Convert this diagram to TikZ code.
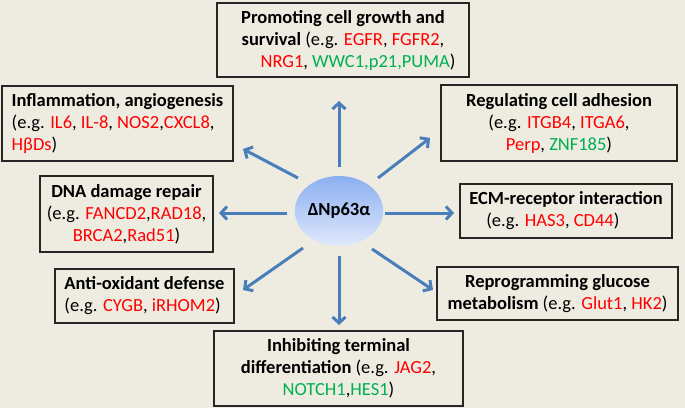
\documentclass[tikz,border=0pt]{standalone}
\usepackage{fontspec}
\setmainfont{Carlito}
\usetikzlibrary{shapes.geometric,arrows.meta}
\definecolor{bg}{RGB}{238,236,225}
\definecolor{rd}{RGB}{255,0,0}
\definecolor{gn}{RGB}{0,176,80}
\definecolor{ar}{RGB}{74,126,187}
\definecolor{etop}{RGB}{138,175,240}
\definecolor{ebot}{RGB}{224,233,252}
\newcommand{\redt}[1]{\textcolor{rd}{#1}}
\newcommand{\grnt}[1]{\textcolor{gn}{#1}}
\begin{document}
\begin{tikzpicture}[x=1pt,y=-1pt,
  box/.style={draw=black!85, line width=1.2pt, fill=bg, inner sep=0pt,
    font=\fontsize{18.5}{22}\selectfont},
  arr/.style={draw=ar, line width=3pt, -{Straight Barb[length=6pt,width=13pt]}}]
\fill[bg] (0,0) rectangle (685,408);
\useasboundingbox (0,0) rectangle (685,408);

\node[ellipse, minimum width=78pt, minimum height=70pt, inner sep=0pt,
  top color=etop, bottom color=ebot, font=\fontsize{18.5}{22}\selectfont\bfseries]
  (c) at (339,211) {ΔNp63α};

\node[box, minimum width=252pt, minimum height=74pt, align=center] (grow) at (343,40)
 {\textbf{Promoting cell growth and}\\
  \textbf{survival} (e.g. \redt{EGFR}, \redt{FGFR2},\\
  \hspace*{30pt}\redt{NRG1}, \grnt{WWC1,p21,PUMA})};

\node[box, minimum width=231pt, minimum height=75pt, align=left] (infl) at (117.5,123.5)
 {\textbf{Inflammation, angiogenesis}\\
  (e.g. \redt{IL6}, \redt{IL-8}, \redt{NOS2},\redt{CXCL8},\\
  \redt{HβDs})};

\node[box, minimum width=236pt, minimum height=76pt, align=center] (adh) at (559,123)
 {\textbf{Regulating cell adhesion}\\
  (e.g. \redt{ITGB4}, \redt{ITGA6},\\
  \redt{Perp}, \grnt{ZNF185})};

\node[box, minimum width=173pt, minimum height=76pt, align=center] (dna) at (126.5,214)
 {\textbf{DNA damage repair}\\
  (e.g. \redt{FANCD2},\redt{RAD18},\\
  \redt{BRCA2},\redt{Rad51})};

\node[box, minimum width=212pt, minimum height=54pt, align=left] (ecm) at (566,211)
 {\textbf{ECM-receptor interaction}\\
  \hspace*{17pt}(e.g. \redt{HAS3}, \redt{CD44})};

\node[box, minimum width=179pt, minimum height=54pt, align=left] (anti) at (144.5,296)
 {\textbf{Anti-oxidant defense}\\
  (e.g. \redt{CYGB}, \redt{iRHOM2})};

\node[box, minimum width=241pt, minimum height=53pt, align=center] (gluc) at (557.5,293.5)
 {\textbf{Reprogramming glucose}\\
  \textbf{metabolism} (e.g. \redt{Glut1}, \redt{HK2})};

\node[box, minimum width=249pt, minimum height=75pt, align=center] (diff) at (338.5,368.5)
 {\textbf{Inhibiting terminal}\\
  \textbf{differentiation} (e.g. \redt{JAG2},\\
  \grnt{NOTCH1},\grnt{HES1})};

\coordinate (s1) at (339,167); \coordinate (t1) at (339,101);
\coordinate (s2) at (298,178); \coordinate (t2) at (243,149);
\coordinate (s3) at (378,178); \coordinate (t3) at (430,138);
\coordinate (s4) at (287,213); \coordinate (t4) at (219,213);
\coordinate (s5) at (385,213); \coordinate (t5) at (454,213);
\coordinate (s6) at (303,248); \coordinate (t6) at (243,290);
\coordinate (s7) at (339,256); \coordinate (t7) at (339,325);
\coordinate (s8) at (372,249); \coordinate (t8) at (433,290);

\draw[arr] (s1) -- (t1);
\draw[arr] (s2) -- (t2);
\draw[arr] (s3) -- (t3);
\draw[arr] (s4) -- (t4);
\draw[arr] (s5) -- (t5);
\draw[arr] (s6) -- (t6);
\draw[arr] (s7) -- (t7);
\draw[arr] (s8) -- (t8);
\end{tikzpicture}
\end{document}
